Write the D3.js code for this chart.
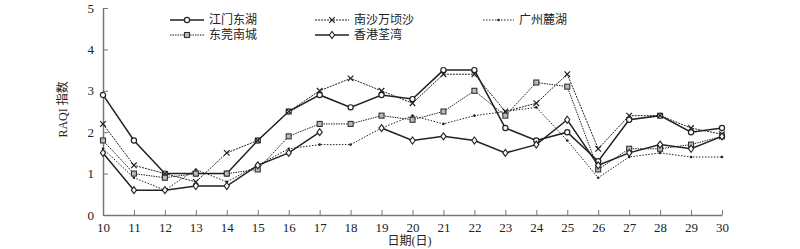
<!DOCTYPE html>
<html lang="zh">
<head>
  <meta charset="UTF-8">
  <title>RAQI</title>
  <script src="https://d3js.org/d3.v7.min.js"></script>
  <style>
    body { margin: 0; background: #fff; }
    text { font-family: "Liberation Serif", "Noto Sans CJK SC", serif; fill: #222; }
  </style>
</head>
<body>
  <div id="wrapper"></div>
  <script>
    const days = d3.range(10, 31)
    const yTicks = [0, 1, 2, 3, 4, 5]

    const jiangmen = [2.9, 1.8, 1.0, 1.0, 1.0, 1.8, 2.5, 2.9, 2.6, 2.9, 2.8, 3.5, 3.5, 2.1, 1.8, 2.0, 1.3, 2.3, 2.4, 2.0, 2.1]
    const nansha = [2.2, 1.2, 1.0, 0.8, 1.5, 1.8, 2.5, 3.0, 3.3, 3.0, 2.7, 3.4, 3.4, 2.5, 2.7, 3.4, 1.6, 2.4, 2.4, 2.1, 1.95]
    const guangzhou = [1.6, 0.9, 0.6, 1.1, 0.8, 1.2, 1.6, 1.7, 1.7, 2.1, 2.4, 2.2, 2.4, 2.5, 2.6, 1.8, 0.9, 1.4, 1.5, 1.4, 1.4]
    const dongguan = [1.8, 1.0, 0.9, 1.0, 1.0, 1.1, 1.9, 2.2, 2.2, 2.4, 2.3, 2.5, 3.0, 2.4, 3.2, 3.1, 1.1, 1.6, 1.6, 1.7, 1.9]
    const hongkong = [1.5, 0.6, 0.6, 0.7, 0.7, 1.2, 1.5, 2.0, null, 2.1, 1.8, 1.9, 1.8, 1.5, 1.7, 2.3, 1.2, 1.5, 1.7, 1.6, 1.9]

    const series = [
      { name: '江门东湖', values: jiangmen, marker: 'circle', dash: null, width: 1.5 },
      { name: '南沙万顷沙', values: nansha, marker: 'cross', dash: '2,1', width: 1 },
      { name: '广州麓湖', values: guangzhou, marker: 'dot', dash: '1.5,1.5', width: 1 },
      { name: '东莞南城', values: dongguan, marker: 'square', dash: '1.5,1', width: 1 },
      { name: '香港荃湾', values: hongkong, marker: 'diamond', dash: null, width: 1.5 },
    ]

    const dimensions = {
      width: 800,
      height: 249,
      margin: { top: 8, right: 78, bottom: 34, left: 103 },
    }
    dimensions.boundedWidth = dimensions.width - dimensions.margin.left - dimensions.margin.right
    dimensions.boundedHeight = dimensions.height - dimensions.margin.top - dimensions.margin.bottom

    const wrapper = d3.select('#wrapper')
      .append('svg')
        .attr('width', dimensions.width)
        .attr('height', dimensions.height)

    const bounds = wrapper.append('g')
      .attr('transform', `translate(${dimensions.margin.left},${dimensions.margin.top})`)

    const xScale = d3.scaleLinear()
      .domain([10, 30])
      .range([0, dimensions.boundedWidth])

    const yScale = d3.scaleLinear()
      .domain([0, 5])
      .range([dimensions.boundedHeight, 0])

    // 坐标轴（刻度朝内）
    bounds.append('g')
      .attr('transform', `translate(0,${dimensions.boundedHeight})`)
      .call(d3.axisBottom(xScale).tickValues(days).tickFormat(d3.format('d')).tickSizeInner(-5).tickSizeOuter(0).tickPadding(8))
    bounds.append('g')
      .call(d3.axisLeft(yScale).tickValues(yTicks).tickFormat(d3.format('d')).tickSizeInner(-5).tickSizeOuter(0).tickPadding(9))

    bounds.selectAll('.domain').attr('stroke', '#777').attr('stroke-width', 1.5)
    bounds.selectAll('.tick line').attr('stroke', '#777')
    bounds.selectAll('.tick text').attr('font-size', 13).attr('font-family', '"Liberation Serif", serif').attr('fill', '#222')

    bounds.append('text')
      .attr('x', dimensions.boundedWidth / 2 - 3)
      .attr('y', dimensions.boundedHeight + 30)
      .attr('text-anchor', 'middle')
      .attr('font-size', 12)
      .text('日期(日)')

    bounds.append('text')
      .attr('transform', `translate(-36,${yScale(2.55)}) rotate(-90)`)
      .attr('text-anchor', 'middle')
      .attr('font-size', 12)
      .text('RAQI 指数')

    const drawMarker = (g, type, x, y) => {
      if (type === 'circle') {
        g.append('circle').attr('cx', x).attr('cy', y).attr('r', 2.6)
          .attr('fill', '#fff').attr('stroke', '#222').attr('stroke-width', 1.2)
      } else if (type === 'square') {
        g.append('rect').attr('x', x - 2.5).attr('y', y - 2.5).attr('width', 5).attr('height', 5)
          .attr('fill', '#bbb').attr('stroke', '#333').attr('stroke-width', 1.1)
      } else if (type === 'diamond') {
        g.append('path').attr('d', `M${x},${y - 3.5}L${x + 2.6},${y}L${x},${y + 3.5}L${x - 2.6},${y}Z`)
          .attr('fill', '#fff').attr('stroke', '#222').attr('stroke-width', 1.1)
      } else if (type === 'cross') {
        g.append('path').attr('d', `M${x - 2.8},${y - 2.8}L${x + 2.8},${y + 2.8}M${x - 2.8},${y + 2.8}L${x + 2.8},${y - 2.8}`)
          .attr('stroke', '#222').attr('stroke-width', 1.2)
      } else if (type === 'dot') {
        g.append('circle').attr('cx', x).attr('cy', y).attr('r', 1.3).attr('fill', '#222')
      }
    }

    const lineGenerator = d3.line()
      .defined(d => d.v !== null)
      .x(d => xScale(d.day))
      .y(d => yScale(d.v))

    series.forEach(s => {
      const points = days.map((day, i) => ({ day, v: s.values[i] }))
      const g = bounds.append('g')
      g.append('path')
        .attr('d', lineGenerator(points))
        .attr('fill', 'none')
        .attr('stroke', '#222')
        .attr('stroke-width', s.width)
        .attr('stroke-dasharray', s.dash)
      points.filter(d => d.v !== null).forEach(d => drawMarker(g, s.marker, xScale(d.day), yScale(d.v)))
    })

    // 图例
    const legendPos = [
      { x: 170, y: 20 }, { x: 315, y: 20 }, { x: 483, y: 20 },
      { x: 170, y: 35 }, { x: 315, y: 35 },
    ]
    const legend = wrapper.append('g')
    series.forEach((s, i) => {
      const p = legendPos[i]
      const lw = i === 2 ? 31 : 34
      legend.append('line')
        .attr('x1', p.x).attr('x2', p.x + lw)
        .attr('y1', p.y).attr('y2', p.y)
        .attr('stroke', '#222')
        .attr('stroke-width', s.width)
        .attr('stroke-dasharray', s.dash)
      drawMarker(legend, s.marker, p.x + lw / 2, p.y)
      legend.append('text')
        .attr('x', p.x + lw + 5)
        .attr('y', p.y + 4)
        .attr('font-size', 12)
        .text(s.name)
    })
  </script>
</body>
</html>
